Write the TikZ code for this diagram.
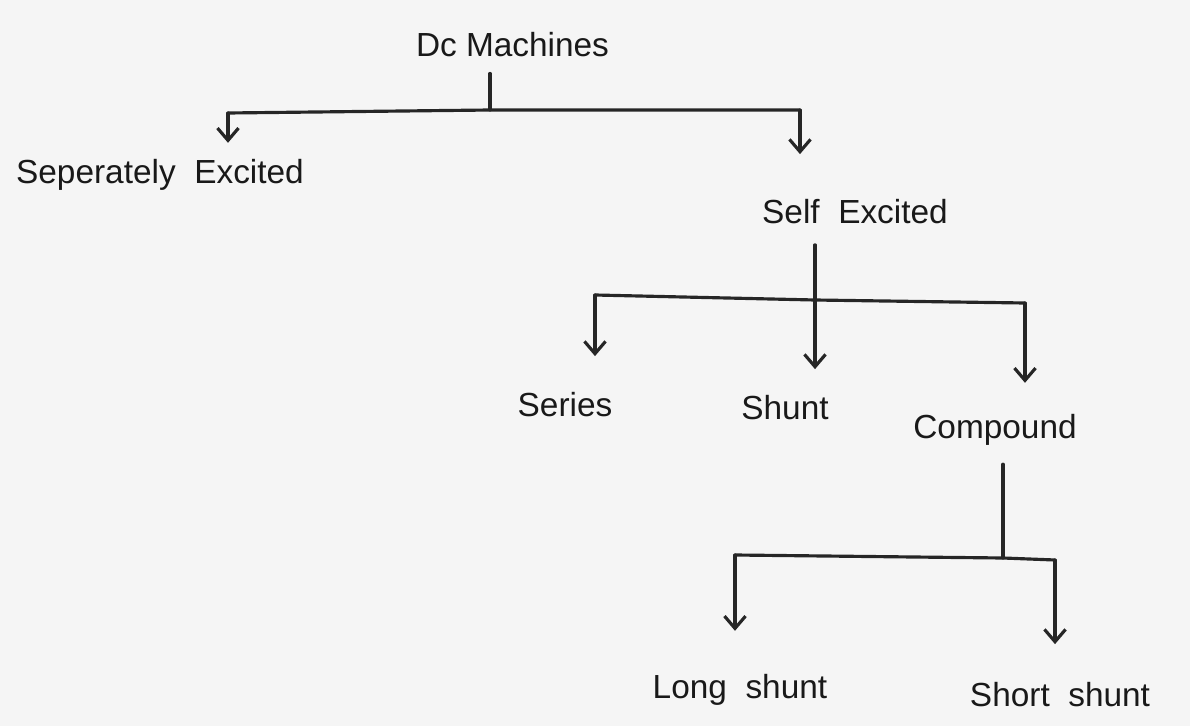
\documentclass[tikz,border=0pt]{standalone}
\usepackage{fontspec}
\setmainfont{Liberation Sans}
\usetikzlibrary{arrows.meta}

\begin{document}
\begin{tikzpicture}[>={Straight Barb[length=7pt,width=12pt]}, line cap=round, line join=round,
	font=\fontsize{19}{22}\selectfont]
\tikzset{
	branch/.style={line width=1.8pt, black!85},
	kind/.style={inner sep=3pt, black!90}
}
% paper
\fill[black!4] (0,0) rectangle (23.8,-14.52);
\useasboundingbox (0,0) rectangle (23.8,-14.52);

%========================
% names of the machines
%========================
\node[kind] (dc)     at (10.25,-0.9) {Dc Machines};
\node[kind] (sep)    at (3.2,-3.5)   {Seperately\ \ Excited};
\node[kind] (self)   at (17.1,-4.24) {Self\ \ Excited};
\node[kind] (series) at (11.3,-8.1)  {Series};
\node[kind] (shunt)  at (15.7,-8.16) {Shunt};
\node[kind] (comp)   at (19.9,-8.6)  {Compound};
\node[kind] (long)   at (14.8,-13.8) {Long\ \ shunt};
\node[kind] (short)  at (21.2,-13.9) {Short\ \ shunt};

%========================
% first split
%========================
\coordinate (j1)  at (9.8,-2.2);
\coordinate (b1l) at (4.56,-2.26);
\coordinate (b1r) at (16.0,-2.2);
\draw[branch, shorten <=6pt] (dc.south -| j1) -- (j1);
\draw[branch] (b1l) -- (j1) -- (b1r);
\draw[branch,->, shorten >=0.22cm] (b1l) -- (b1l |- sep.north);
\draw[branch,->, shorten >=0.8cm]  (b1r) -- (b1r |- self.north);

%========================
% self excited split
%========================
\coordinate (j2)  at (16.3,-6.0);
\coordinate (b2l) at (11.9,-5.9);
\coordinate (b2r) at (20.5,-6.06);
\draw[branch, shorten <=0.3cm] (self.south -| j2) -- (j2);
\draw[branch] (b2l) -- (j2) -- (b2r);
\draw[branch,->, shorten >=0.62cm] (b2l) -- (b2l |- series.north);
\draw[branch,->, shorten >=0.42cm] (j2)  -- (j2 |- shunt.north);
\draw[branch,->, shorten >=0.52cm] (b2r) -- (b2r |- comp.north);

%========================
% compound split
%========================
\coordinate (j3)  at (20.06,-11.16);
\coordinate (b3l) at (14.7,-11.1);
\coordinate (b3r) at (21.1,-11.2);
\draw[branch, shorten <=0.26cm] (comp.south -| j3) -- (j3);
\draw[branch] (b3l) -- (j3) -- (b3r);
\draw[branch,->, shorten >=0.76cm] (b3l) -- (b3l |- long.north);
\draw[branch,->, shorten >=0.66cm] (b3r) -- (b3r |- short.north);
\end{tikzpicture}
\end{document}
